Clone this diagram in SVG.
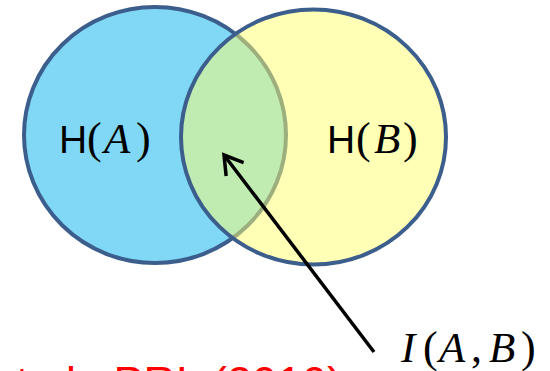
<svg xmlns="http://www.w3.org/2000/svg" width="550" height="371" viewBox="0 0 550 371">
  <style>
    .ring { stroke: #3B5E8C; stroke-width: 4; }
    .lbl { font-family: "Liberation Serif", "DejaVu Serif", serif; font-size: 44px; fill: #000; }
    .sans { font-family: "Liberation Sans", Arial, sans-serif; font-size: 39px; }
    .it { font-style: italic; font-size: 43px; }
    .cite { font-family: "Liberation Sans", Arial, sans-serif; font-size: 45px; fill: #FF0000; }
    .conn { stroke: #000; stroke-width: 3.5; fill: none; }
  </style>
  <defs>
    <marker id="chev" markerUnits="userSpaceOnUse" markerWidth="40" markerHeight="40" refX="0" refY="0" orient="auto" overflow="visible" viewBox="-30 -20 40 40">
      <path d="M-18,-11 L0,0 L-18,11" fill="none" stroke="#000" stroke-width="3.5" stroke-linejoin="miter"/>
    </marker>
  </defs>
  <rect width="550" height="371" fill="#FFFFFF"/>
  <g id="nodeA">
    <ellipse class="ring" cx="155" cy="135" rx="131" ry="128" fill="#80D8F6"/>
    <text class="lbl" y="153"><tspan class="sans" x="59">H</tspan><tspan x="87">(</tspan><tspan class="it" x="104">A</tspan><tspan x="136">)</tspan></text>
  </g>
  <g id="nodeB">
    <ellipse class="ring" cx="313.5" cy="137" rx="132.5" ry="127.5" fill="#FFFF6E" fill-opacity="0.5"/>
    <text class="lbl" y="153"><tspan class="sans" x="327">H</tspan><tspan x="356">(</tspan><tspan class="it" x="374">B</tspan><tspan x="403">)</tspan></text>
  </g>
  <g id="connectors">
    <line class="conn" x1="374" y1="352" x2="224" y2="155" marker-end="url(#chev)"/>
  </g>
  <g id="nodeI">
    <text class="lbl" y="362"><tspan class="it" x="401">I</tspan><tspan x="423">(</tspan><tspan class="it" x="439">A</tspan><tspan x="471">,</tspan><tspan class="it" x="489">B</tspan><tspan x="521">)</tspan></text>
  </g>
  <g id="citation">
    <text class="cite" x="-9" y="398">et al., PRL (2010)</text>
  </g>
</svg>
